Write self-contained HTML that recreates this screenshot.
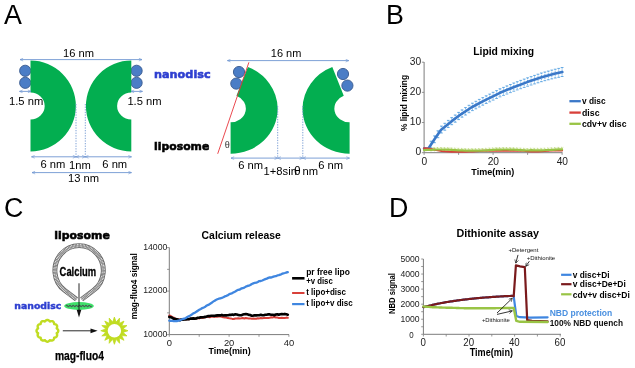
<!DOCTYPE html>
<html lang="en"><head><meta charset="utf-8"><title>Figure</title>
<style>
html,body{margin:0;padding:0;background:#fff;}
svg{display:block;}
text{white-space:pre;}
</style></head><body>
<svg width="635" height="368" viewBox="0 0 635 368">
<defs>
<marker id="ab" viewBox="0 0 10 10" refX="9" refY="5" markerWidth="4.4" markerHeight="4.4" orient="auto-start-reverse"><path d="M1,1.5 L9,5 L1,8.5" fill="none" stroke="#6f96d1" stroke-width="1.5"/></marker>
<marker id="ak" viewBox="0 0 10 10" refX="9" refY="5" markerWidth="5.5" markerHeight="5.5" orient="auto"><path d="M2,1 L9,5 L2,9" fill="none" stroke="#111" stroke-width="1.3"/></marker>
</defs>
<rect width="635" height="368" fill="#fff"/>

<text x="4.1" y="23.9" font-family='"Liberation Sans", sans-serif' font-size="26.8" font-weight="normal" fill="#000" text-anchor="start">A</text>
<text x="386.0" y="23.9" font-family='"Liberation Sans", sans-serif' font-size="26.8" font-weight="normal" fill="#000" text-anchor="start">B</text>
<text x="4.0" y="216.7" font-family='"Liberation Sans", sans-serif' font-size="26.8" font-weight="normal" fill="#000" text-anchor="start">C</text>
<text x="389.0" y="216.7" font-family='"Liberation Sans", sans-serif' font-size="26.8" font-weight="normal" fill="#000" text-anchor="start">D</text>
<circle cx="25.2" cy="70.8" r="5.6" fill="#4b7dc6" stroke="#38598f" stroke-width="0.9"/>
<circle cx="25.2" cy="82.8" r="5.6" fill="#4b7dc6" stroke="#38598f" stroke-width="0.9"/>
<circle cx="136.6" cy="70.8" r="5.6" fill="#4b7dc6" stroke="#38598f" stroke-width="0.9"/>
<circle cx="136.6" cy="82.8" r="5.6" fill="#4b7dc6" stroke="#38598f" stroke-width="0.9"/>
<path d="M30.5,60.6 A45.4,45.4 0 0 1 30.5,151.4 L30.5,119.5 A14.2,13.5 0 0 0 30.5,92.5 Z" fill="#03ae50"/>
<path d="M131.3,60.6 A45.4,45.4 0 0 0 131.3,151.4 L131.3,119.5 A14.2,13.5 0 0 1 131.3,92.5 Z" fill="#03ae50"/>
<line x1="20" y1="59.6" x2="142" y2="59.6" stroke="#6f96d1" stroke-width="0.9" marker-end="url(#ab)" marker-start="url(#ab)"/>
<text x="63" y="56.6" font-family='"Liberation Sans", sans-serif' font-size="11.2" font-weight="normal" fill="#000" text-anchor="start" textLength="31" lengthAdjust="spacingAndGlyphs">16 nm</text>
<line x1="19.5" y1="91.4" x2="31" y2="91.4" stroke="#6f96d1" stroke-width="0.9" marker-end="url(#ab)" marker-start="url(#ab)"/>
<text x="9" y="104.5" font-family='"Liberation Sans", sans-serif' font-size="11.2" font-weight="normal" fill="#000" text-anchor="start">1.5 nm</text>
<line x1="131" y1="91.4" x2="142.5" y2="91.4" stroke="#6f96d1" stroke-width="0.9" marker-end="url(#ab)" marker-start="url(#ab)"/>
<text x="127.4" y="104.5" font-family='"Liberation Sans", sans-serif' font-size="11.2" font-weight="normal" fill="#000" text-anchor="start">1.5 nm</text>
<line x1="76" y1="104" x2="76" y2="158" stroke="#6f96d1" stroke-width="0.9" stroke-dasharray="1.3,1.3"/>
<line x1="85.3" y1="104" x2="85.3" y2="158" stroke="#6f96d1" stroke-width="0.9" stroke-dasharray="1.3,1.3"/>
<line x1="31.5" y1="156.8" x2="76" y2="156.8" stroke="#6f96d1" stroke-width="0.9" marker-end="url(#ab)" marker-start="url(#ab)"/>
<line x1="76" y1="156.8" x2="85.3" y2="156.8" stroke="#6f96d1" stroke-width="0.9" marker-end="url(#ab)" marker-start="url(#ab)"/>
<line x1="85.3" y1="156.8" x2="131.5" y2="156.8" stroke="#6f96d1" stroke-width="0.9" marker-end="url(#ab)" marker-start="url(#ab)"/>
<text x="40.5" y="167.6" font-family='"Liberation Sans", sans-serif' font-size="11.2" font-weight="normal" fill="#000" text-anchor="start">6 nm</text>
<text x="69" y="169" font-family='"Liberation Sans", sans-serif' font-size="11.2" font-weight="normal" fill="#000" text-anchor="start">1nm</text>
<text x="102.3" y="167.6" font-family='"Liberation Sans", sans-serif' font-size="11.2" font-weight="normal" fill="#000" text-anchor="start">6 nm</text>
<line x1="32" y1="172.6" x2="131.5" y2="172.6" stroke="#6f96d1" stroke-width="0.9" marker-end="url(#ab)" marker-start="url(#ab)"/>
<text x="68" y="182.4" font-family='"Liberation Sans", sans-serif' font-size="11.2" font-weight="normal" fill="#000" text-anchor="start">13 nm</text>
<text x="154" y="77.7" font-family='"DejaVu Sans", "Liberation Sans", sans-serif' font-size="11" font-weight="bold" fill="#2e3fd0" text-anchor="start" textLength="56.6" lengthAdjust="spacingAndGlyphs" stroke="#2e3fd0" stroke-width="0.55">nanodisc</text>
<text x="154" y="149.7" font-family='"DejaVu Sans", "Liberation Sans", sans-serif' font-size="11" font-weight="bold" fill="#000" text-anchor="start" textLength="55.3" lengthAdjust="spacingAndGlyphs" stroke="#000" stroke-width="0.55">liposome</text>
<circle cx="239" cy="72" r="5.6" fill="#4b7dc6" stroke="#38598f" stroke-width="0.9"/>
<circle cx="236.3" cy="83.6" r="5.6" fill="#4b7dc6" stroke="#38598f" stroke-width="0.9"/>
<circle cx="343" cy="74" r="5.6" fill="#4b7dc6" stroke="#38598f" stroke-width="0.9"/>
<circle cx="347.4" cy="85.6" r="5.6" fill="#4b7dc6" stroke="#38598f" stroke-width="0.9"/>
<path d="M230.6,153.8 L230.6,122.3 A15.2,13.8 0 0 0 236.46,95.75 L247.9,67 A47.1,45.3 0 0 1 277.7,108.5 A47.1,45.3 0 0 1 230.6,153.8 Z" fill="#03ae50"/>
<path d="M349.6,153.8 L349.6,122.3 A15.2,13.8 0 0 1 343.74,95.75 L332.30000000000007,67 A47.1,45.3 0 0 0 302.50000000000006,108.5 A47.1,45.3 0 0 0 349.6,153.8 Z" fill="#03ae50"/>
<line x1="248.9" y1="62.3" x2="217.7" y2="153.8" stroke="#e8363c" stroke-width="0.9"/>
<line x1="227.4" y1="60.6" x2="348.8" y2="60.6" stroke="#6f96d1" stroke-width="0.9" marker-end="url(#ab)" marker-start="url(#ab)"/>
<text x="270.8" y="56.8" font-family='"Liberation Sans", sans-serif' font-size="11.2" font-weight="normal" fill="#000" text-anchor="start" textLength="30.5" lengthAdjust="spacingAndGlyphs">16 nm</text>
<line x1="277.7" y1="106" x2="277.7" y2="158" stroke="#6f96d1" stroke-width="0.9" stroke-dasharray="1.3,1.3"/>
<line x1="302.8" y1="106" x2="302.8" y2="158" stroke="#6f96d1" stroke-width="0.9" stroke-dasharray="1.3,1.3"/>
<line x1="231" y1="158.1" x2="277.7" y2="158.1" stroke="#6f96d1" stroke-width="0.9" marker-end="url(#ab)" marker-start="url(#ab)"/>
<line x1="277.7" y1="158.1" x2="302.8" y2="158.1" stroke="#6f96d1" stroke-width="0.9" marker-end="url(#ab)" marker-start="url(#ab)"/>
<line x1="302.8" y1="158.1" x2="349.5" y2="158.1" stroke="#6f96d1" stroke-width="0.9" marker-end="url(#ab)" marker-start="url(#ab)"/>
<text x="238.2" y="168.8" font-family='"Liberation Sans", sans-serif' font-size="11.2" font-weight="normal" fill="#000" text-anchor="start">6 nm</text>
<text x="318.2" y="168.8" font-family='"Liberation Sans", sans-serif' font-size="11.2" font-weight="normal" fill="#000" text-anchor="start">6 nm</text>
<text x="263.6" y="175.2" font-family='"Liberation Sans", sans-serif' font-size="11.2" font-weight="normal" fill="#000" text-anchor="start">1+8sin</text>
<text x="294" y="175.2" font-family='"Liberation Sans", sans-serif' font-size="12" font-weight="normal" fill="#000" text-anchor="start">θ</text>
<text x="302.5" y="175.2" font-family='"Liberation Sans", sans-serif' font-size="11.2" font-weight="normal" fill="#000" text-anchor="start">nm</text>
<text x="224.7" y="147.6" font-family='"Liberation Serif", serif' font-size="10.5" font-weight="normal" fill="#333" text-anchor="start">θ</text>
<text x="473.2" y="54.9" font-family='"Liberation Sans", sans-serif' font-size="11.2" font-weight="bold" fill="#000" text-anchor="start" textLength="61" lengthAdjust="spacingAndGlyphs">Lipid mixing</text>
<path d="M424.1,62 L424.1,152.7 L562.5,152.7" fill="none" stroke="#7c7c7c" stroke-width="1"/>
<line x1="424.1" y1="152.7" x2="424.1" y2="154.89999999999998" stroke="#7c7c7c" stroke-width="0.8"/>
<line x1="458.6" y1="152.7" x2="458.6" y2="154.89999999999998" stroke="#7c7c7c" stroke-width="0.8"/>
<line x1="493.1" y1="152.7" x2="493.1" y2="154.89999999999998" stroke="#7c7c7c" stroke-width="0.8"/>
<line x1="527.6" y1="152.7" x2="527.6" y2="154.89999999999998" stroke="#7c7c7c" stroke-width="0.8"/>
<line x1="562.1" y1="152.7" x2="562.1" y2="154.89999999999998" stroke="#7c7c7c" stroke-width="0.8"/>
<line x1="421.90000000000003" y1="152.7" x2="424.1" y2="152.7" stroke="#7c7c7c" stroke-width="0.8"/>
<line x1="421.90000000000003" y1="122.52999999999999" x2="424.1" y2="122.52999999999999" stroke="#7c7c7c" stroke-width="0.8"/>
<line x1="421.90000000000003" y1="92.35999999999999" x2="424.1" y2="92.35999999999999" stroke="#7c7c7c" stroke-width="0.8"/>
<line x1="421.90000000000003" y1="62.19" x2="424.1" y2="62.19" stroke="#7c7c7c" stroke-width="0.8"/>
<text x="421.2" y="155.2" font-family='"Liberation Sans", sans-serif' font-size="10.2" font-weight="normal" fill="#222" text-anchor="end">0</text>
<text x="421.2" y="125.02999999999999" font-family='"Liberation Sans", sans-serif' font-size="10.2" font-weight="normal" fill="#222" text-anchor="end">10</text>
<text x="421.2" y="94.85999999999999" font-family='"Liberation Sans", sans-serif' font-size="10.2" font-weight="normal" fill="#222" text-anchor="end">20</text>
<text x="421.2" y="64.69" font-family='"Liberation Sans", sans-serif' font-size="10.2" font-weight="normal" fill="#222" text-anchor="end">30</text>
<text x="424.3" y="164.8" font-family='"Liberation Sans", sans-serif' font-size="10.2" font-weight="normal" fill="#222" text-anchor="middle">0</text>
<text x="493.3" y="164.8" font-family='"Liberation Sans", sans-serif' font-size="10.2" font-weight="normal" fill="#222" text-anchor="middle">20</text>
<text x="562.3000000000001" y="164.8" font-family='"Liberation Sans", sans-serif' font-size="10.2" font-weight="normal" fill="#222" text-anchor="middle">40</text>
<text x="471.3" y="174.8" font-family='"Liberation Sans", sans-serif' font-size="9.2" font-weight="bold" fill="#000" text-anchor="start" textLength="43" lengthAdjust="spacingAndGlyphs">Time(min)</text>
<text transform="translate(406.7,131.0) rotate(-90)" font-family='"Liberation Sans", sans-serif' font-size="8.7" font-weight="bold" fill="#000" textLength="56" lengthAdjust="spacingAndGlyphs">% lipid mixing</text>
<path d="M431.0,141.2 L431.0,147.9" stroke="#4a9ade" stroke-width="0.8" stroke-dasharray="1.2,0.8" fill="none"/>
<path d="M429.6,141.2 L432.4,141.2 M429.6,147.9 L432.4,147.9" stroke="#4a9ade" stroke-width="0.8" fill="none"/>
<path d="M434.5,135.9 L434.5,142.7" stroke="#4a9ade" stroke-width="0.8" stroke-dasharray="1.2,0.8" fill="none"/>
<path d="M433.1,135.9 L435.9,135.9 M433.1,142.7 L435.9,142.7" stroke="#4a9ade" stroke-width="0.8" fill="none"/>
<path d="M437.9,130.8 L437.9,137.7" stroke="#4a9ade" stroke-width="0.8" stroke-dasharray="1.2,0.8" fill="none"/>
<path d="M436.5,130.8 L439.3,130.8 M436.5,137.7 L439.3,137.7" stroke="#4a9ade" stroke-width="0.8" fill="none"/>
<path d="M441.4,126.1 L441.4,133.0" stroke="#4a9ade" stroke-width="0.8" stroke-dasharray="1.2,0.8" fill="none"/>
<path d="M440.0,126.1 L442.8,126.1 M440.0,133.0 L442.8,133.0" stroke="#4a9ade" stroke-width="0.8" fill="none"/>
<path d="M444.8,123.3 L444.8,130.2" stroke="#4a9ade" stroke-width="0.8" stroke-dasharray="1.2,0.8" fill="none"/>
<path d="M443.4,123.3 L446.2,123.3 M443.4,130.2 L446.2,130.2" stroke="#4a9ade" stroke-width="0.8" fill="none"/>
<path d="M448.2,120.4 L448.2,127.5" stroke="#4a9ade" stroke-width="0.8" stroke-dasharray="1.2,0.8" fill="none"/>
<path d="M446.9,120.4 L449.6,120.4 M446.9,127.5 L449.6,127.5" stroke="#4a9ade" stroke-width="0.8" fill="none"/>
<path d="M451.7,117.6 L451.7,124.7" stroke="#4a9ade" stroke-width="0.8" stroke-dasharray="1.2,0.8" fill="none"/>
<path d="M450.3,117.6 L453.1,117.6 M450.3,124.7 L453.1,124.7" stroke="#4a9ade" stroke-width="0.8" fill="none"/>
<path d="M455.2,115.0 L455.2,122.2" stroke="#4a9ade" stroke-width="0.8" stroke-dasharray="1.2,0.8" fill="none"/>
<path d="M453.8,115.0 L456.6,115.0 M453.8,122.2 L456.6,122.2" stroke="#4a9ade" stroke-width="0.8" fill="none"/>
<path d="M458.6,112.4 L458.6,119.6" stroke="#4a9ade" stroke-width="0.8" stroke-dasharray="1.2,0.8" fill="none"/>
<path d="M457.2,112.4 L460.0,112.4 M457.2,119.6 L460.0,119.6" stroke="#4a9ade" stroke-width="0.8" fill="none"/>
<path d="M462.1,109.9 L462.1,117.2" stroke="#4a9ade" stroke-width="0.8" stroke-dasharray="1.2,0.8" fill="none"/>
<path d="M460.7,109.9 L463.4,109.9 M460.7,117.2 L463.4,117.2" stroke="#4a9ade" stroke-width="0.8" fill="none"/>
<path d="M465.5,107.6 L465.5,115.0" stroke="#4a9ade" stroke-width="0.8" stroke-dasharray="1.2,0.8" fill="none"/>
<path d="M464.1,107.6 L466.9,107.6 M464.1,115.0 L466.9,115.0" stroke="#4a9ade" stroke-width="0.8" fill="none"/>
<path d="M469.0,105.3 L469.0,112.7" stroke="#4a9ade" stroke-width="0.8" stroke-dasharray="1.2,0.8" fill="none"/>
<path d="M467.6,105.3 L470.4,105.3 M467.6,112.7 L470.4,112.7" stroke="#4a9ade" stroke-width="0.8" fill="none"/>
<path d="M472.4,103.2 L472.4,110.6" stroke="#4a9ade" stroke-width="0.8" stroke-dasharray="1.2,0.8" fill="none"/>
<path d="M471.0,103.2 L473.8,103.2 M471.0,110.6 L473.8,110.6" stroke="#4a9ade" stroke-width="0.8" fill="none"/>
<path d="M475.9,101.3 L475.9,108.8" stroke="#4a9ade" stroke-width="0.8" stroke-dasharray="1.2,0.8" fill="none"/>
<path d="M474.5,101.3 L477.2,101.3 M474.5,108.8 L477.2,108.8" stroke="#4a9ade" stroke-width="0.8" fill="none"/>
<path d="M479.3,99.4 L479.3,107.0" stroke="#4a9ade" stroke-width="0.8" stroke-dasharray="1.2,0.8" fill="none"/>
<path d="M477.9,99.4 L480.7,99.4 M477.9,107.0 L480.7,107.0" stroke="#4a9ade" stroke-width="0.8" fill="none"/>
<path d="M482.8,97.6 L482.8,105.2" stroke="#4a9ade" stroke-width="0.8" stroke-dasharray="1.2,0.8" fill="none"/>
<path d="M481.4,97.6 L484.1,97.6 M481.4,105.2 L484.1,105.2" stroke="#4a9ade" stroke-width="0.8" fill="none"/>
<path d="M486.2,95.8 L486.2,103.5" stroke="#4a9ade" stroke-width="0.8" stroke-dasharray="1.2,0.8" fill="none"/>
<path d="M484.8,95.8 L487.6,95.8 M484.8,103.5 L487.6,103.5" stroke="#4a9ade" stroke-width="0.8" fill="none"/>
<path d="M489.7,94.1 L489.7,101.8" stroke="#4a9ade" stroke-width="0.8" stroke-dasharray="1.2,0.8" fill="none"/>
<path d="M488.3,94.1 L491.1,94.1 M488.3,101.8 L491.1,101.8" stroke="#4a9ade" stroke-width="0.8" fill="none"/>
<path d="M493.1,92.3 L493.1,100.1" stroke="#4a9ade" stroke-width="0.8" stroke-dasharray="1.2,0.8" fill="none"/>
<path d="M491.7,92.3 L494.5,92.3 M491.7,100.1 L494.5,100.1" stroke="#4a9ade" stroke-width="0.8" fill="none"/>
<path d="M496.6,90.6 L496.6,98.5" stroke="#4a9ade" stroke-width="0.8" stroke-dasharray="1.2,0.8" fill="none"/>
<path d="M495.2,90.6 L497.9,90.6 M495.2,98.5 L497.9,98.5" stroke="#4a9ade" stroke-width="0.8" fill="none"/>
<path d="M500.0,88.8 L500.0,96.8" stroke="#4a9ade" stroke-width="0.8" stroke-dasharray="1.2,0.8" fill="none"/>
<path d="M498.6,88.8 L501.4,88.8 M498.6,96.8 L501.4,96.8" stroke="#4a9ade" stroke-width="0.8" fill="none"/>
<path d="M503.5,87.4 L503.5,95.4" stroke="#4a9ade" stroke-width="0.8" stroke-dasharray="1.2,0.8" fill="none"/>
<path d="M502.1,87.4 L504.9,87.4 M502.1,95.4 L504.9,95.4" stroke="#4a9ade" stroke-width="0.8" fill="none"/>
<path d="M506.9,85.9 L506.9,94.0" stroke="#4a9ade" stroke-width="0.8" stroke-dasharray="1.2,0.8" fill="none"/>
<path d="M505.5,85.9 L508.3,85.9 M505.5,94.0 L508.3,94.0" stroke="#4a9ade" stroke-width="0.8" fill="none"/>
<path d="M510.4,84.5 L510.4,92.6" stroke="#4a9ade" stroke-width="0.8" stroke-dasharray="1.2,0.8" fill="none"/>
<path d="M509.0,84.5 L511.8,84.5 M509.0,92.6 L511.8,92.6" stroke="#4a9ade" stroke-width="0.8" fill="none"/>
<path d="M513.8,83.0 L513.8,91.2" stroke="#4a9ade" stroke-width="0.8" stroke-dasharray="1.2,0.8" fill="none"/>
<path d="M512.4,83.0 L515.2,83.0 M512.4,91.2 L515.2,91.2" stroke="#4a9ade" stroke-width="0.8" fill="none"/>
<path d="M517.2,81.7 L517.2,89.9" stroke="#4a9ade" stroke-width="0.8" stroke-dasharray="1.2,0.8" fill="none"/>
<path d="M515.9,81.7 L518.6,81.7 M515.9,89.9 L518.6,89.9" stroke="#4a9ade" stroke-width="0.8" fill="none"/>
<path d="M520.7,80.4 L520.7,88.7" stroke="#4a9ade" stroke-width="0.8" stroke-dasharray="1.2,0.8" fill="none"/>
<path d="M519.3,80.4 L522.1,80.4 M519.3,88.7 L522.1,88.7" stroke="#4a9ade" stroke-width="0.8" fill="none"/>
<path d="M524.2,79.1 L524.2,87.4" stroke="#4a9ade" stroke-width="0.8" stroke-dasharray="1.2,0.8" fill="none"/>
<path d="M522.8,79.1 L525.6,79.1 M522.8,87.4 L525.6,87.4" stroke="#4a9ade" stroke-width="0.8" fill="none"/>
<path d="M527.6,77.8 L527.6,86.2" stroke="#4a9ade" stroke-width="0.8" stroke-dasharray="1.2,0.8" fill="none"/>
<path d="M526.2,77.8 L529.0,77.8 M526.2,86.2 L529.0,86.2" stroke="#4a9ade" stroke-width="0.8" fill="none"/>
<path d="M531.1,76.6 L531.1,85.0" stroke="#4a9ade" stroke-width="0.8" stroke-dasharray="1.2,0.8" fill="none"/>
<path d="M529.7,76.6 L532.5,76.6 M529.7,85.0 L532.5,85.0" stroke="#4a9ade" stroke-width="0.8" fill="none"/>
<path d="M534.5,75.4 L534.5,83.9" stroke="#4a9ade" stroke-width="0.8" stroke-dasharray="1.2,0.8" fill="none"/>
<path d="M533.1,75.4 L535.9,75.4 M533.1,83.9 L535.9,83.9" stroke="#4a9ade" stroke-width="0.8" fill="none"/>
<path d="M538.0,74.2 L538.0,82.8" stroke="#4a9ade" stroke-width="0.8" stroke-dasharray="1.2,0.8" fill="none"/>
<path d="M536.6,74.2 L539.4,74.2 M536.6,82.8 L539.4,82.8" stroke="#4a9ade" stroke-width="0.8" fill="none"/>
<path d="M541.4,73.0 L541.4,81.7" stroke="#4a9ade" stroke-width="0.8" stroke-dasharray="1.2,0.8" fill="none"/>
<path d="M540.0,73.0 L542.8,73.0 M540.0,81.7 L542.8,81.7" stroke="#4a9ade" stroke-width="0.8" fill="none"/>
<path d="M544.9,72.0 L544.9,80.7" stroke="#4a9ade" stroke-width="0.8" stroke-dasharray="1.2,0.8" fill="none"/>
<path d="M543.5,72.0 L546.2,72.0 M543.5,80.7 L546.2,80.7" stroke="#4a9ade" stroke-width="0.8" fill="none"/>
<path d="M548.3,71.1 L548.3,79.8" stroke="#4a9ade" stroke-width="0.8" stroke-dasharray="1.2,0.8" fill="none"/>
<path d="M546.9,71.1 L549.7,71.1 M546.9,79.8 L549.7,79.8" stroke="#4a9ade" stroke-width="0.8" fill="none"/>
<path d="M551.8,70.1 L551.8,78.9" stroke="#4a9ade" stroke-width="0.8" stroke-dasharray="1.2,0.8" fill="none"/>
<path d="M550.4,70.1 L553.1,70.1 M550.4,78.9 L553.1,78.9" stroke="#4a9ade" stroke-width="0.8" fill="none"/>
<path d="M555.2,69.2 L555.2,78.0" stroke="#4a9ade" stroke-width="0.8" stroke-dasharray="1.2,0.8" fill="none"/>
<path d="M553.8,69.2 L556.6,69.2 M553.8,78.0 L556.6,78.0" stroke="#4a9ade" stroke-width="0.8" fill="none"/>
<path d="M558.7,68.4 L558.7,77.3" stroke="#4a9ade" stroke-width="0.8" stroke-dasharray="1.2,0.8" fill="none"/>
<path d="M557.3,68.4 L560.1,68.4 M557.3,77.3 L560.1,77.3" stroke="#4a9ade" stroke-width="0.8" fill="none"/>
<path d="M562.1,67.5 L562.1,76.5" stroke="#4a9ade" stroke-width="0.8" stroke-dasharray="1.2,0.8" fill="none"/>
<path d="M560.7,67.5 L563.5,67.5 M560.7,76.5 L563.5,76.5" stroke="#4a9ade" stroke-width="0.8" fill="none"/>
<path d="M431.0,147.8 L431.0,151.8 M429.7,147.8 L432.3,147.8" stroke="#a8cc55" stroke-width="0.6" stroke-dasharray="1.4,0.9" fill="none"/>
<path d="M434.5,147.6 L434.5,151.6 M433.2,147.6 L435.8,147.6" stroke="#a8cc55" stroke-width="0.6" stroke-dasharray="1.4,0.9" fill="none"/>
<path d="M437.9,147.5 L437.9,151.5 M436.6,147.5 L439.2,147.5" stroke="#a8cc55" stroke-width="0.6" stroke-dasharray="1.4,0.9" fill="none"/>
<path d="M441.4,147.5 L441.4,151.5 M440.1,147.5 L442.7,147.5" stroke="#a8cc55" stroke-width="0.6" stroke-dasharray="1.4,0.9" fill="none"/>
<path d="M444.8,147.6 L444.8,151.6 M443.5,147.6 L446.1,147.6" stroke="#a8cc55" stroke-width="0.6" stroke-dasharray="1.4,0.9" fill="none"/>
<path d="M448.2,147.7 L448.2,151.7 M446.9,147.7 L449.6,147.7" stroke="#a8cc55" stroke-width="0.6" stroke-dasharray="1.4,0.9" fill="none"/>
<path d="M451.7,147.9 L451.7,151.9 M450.4,147.9 L453.0,147.9" stroke="#a8cc55" stroke-width="0.6" stroke-dasharray="1.4,0.9" fill="none"/>
<path d="M455.2,148.1 L455.2,152.1 M453.9,148.1 L456.5,148.1" stroke="#a8cc55" stroke-width="0.6" stroke-dasharray="1.4,0.9" fill="none"/>
<path d="M458.6,148.3 L458.6,152.3 M457.3,148.3 L459.9,148.3" stroke="#a8cc55" stroke-width="0.6" stroke-dasharray="1.4,0.9" fill="none"/>
<path d="M462.1,148.4 L462.1,152.4 M460.8,148.4 L463.4,148.4" stroke="#a8cc55" stroke-width="0.6" stroke-dasharray="1.4,0.9" fill="none"/>
<path d="M465.5,148.6 L465.5,152.6 M464.2,148.6 L466.8,148.6" stroke="#a8cc55" stroke-width="0.6" stroke-dasharray="1.4,0.9" fill="none"/>
<path d="M469.0,148.7 L469.0,152.7 M467.7,148.7 L470.3,148.7" stroke="#a8cc55" stroke-width="0.6" stroke-dasharray="1.4,0.9" fill="none"/>
<path d="M472.4,148.7 L472.4,152.7 M471.1,148.7 L473.7,148.7" stroke="#a8cc55" stroke-width="0.6" stroke-dasharray="1.4,0.9" fill="none"/>
<path d="M475.9,148.7 L475.9,152.7 M474.6,148.7 L477.2,148.7" stroke="#a8cc55" stroke-width="0.6" stroke-dasharray="1.4,0.9" fill="none"/>
<path d="M479.3,148.6 L479.3,152.6 M478.0,148.6 L480.6,148.6" stroke="#a8cc55" stroke-width="0.6" stroke-dasharray="1.4,0.9" fill="none"/>
<path d="M482.8,148.5 L482.8,152.5 M481.4,148.5 L484.1,148.5" stroke="#a8cc55" stroke-width="0.6" stroke-dasharray="1.4,0.9" fill="none"/>
<path d="M486.2,148.3 L486.2,152.3 M484.9,148.3 L487.5,148.3" stroke="#a8cc55" stroke-width="0.6" stroke-dasharray="1.4,0.9" fill="none"/>
<path d="M489.7,148.1 L489.7,152.1 M488.4,148.1 L491.0,148.1" stroke="#a8cc55" stroke-width="0.6" stroke-dasharray="1.4,0.9" fill="none"/>
<path d="M493.1,147.9 L493.1,151.9 M491.8,147.9 L494.4,147.9" stroke="#a8cc55" stroke-width="0.6" stroke-dasharray="1.4,0.9" fill="none"/>
<path d="M496.6,147.7 L496.6,151.7 M495.2,147.7 L497.9,147.7" stroke="#a8cc55" stroke-width="0.6" stroke-dasharray="1.4,0.9" fill="none"/>
<path d="M500.0,147.6 L500.0,151.6 M498.7,147.6 L501.3,147.6" stroke="#a8cc55" stroke-width="0.6" stroke-dasharray="1.4,0.9" fill="none"/>
<path d="M503.5,147.5 L503.5,151.5 M502.2,147.5 L504.8,147.5" stroke="#a8cc55" stroke-width="0.6" stroke-dasharray="1.4,0.9" fill="none"/>
<path d="M506.9,147.5 L506.9,151.5 M505.6,147.5 L508.2,147.5" stroke="#a8cc55" stroke-width="0.6" stroke-dasharray="1.4,0.9" fill="none"/>
<path d="M510.4,147.6 L510.4,151.6 M509.1,147.6 L511.7,147.6" stroke="#a8cc55" stroke-width="0.6" stroke-dasharray="1.4,0.9" fill="none"/>
<path d="M513.8,147.7 L513.8,151.7 M512.5,147.7 L515.1,147.7" stroke="#a8cc55" stroke-width="0.6" stroke-dasharray="1.4,0.9" fill="none"/>
<path d="M517.2,147.9 L517.2,151.9 M516.0,147.9 L518.5,147.9" stroke="#a8cc55" stroke-width="0.6" stroke-dasharray="1.4,0.9" fill="none"/>
<path d="M520.7,148.1 L520.7,152.1 M519.4,148.1 L522.0,148.1" stroke="#a8cc55" stroke-width="0.6" stroke-dasharray="1.4,0.9" fill="none"/>
<path d="M524.2,148.3 L524.2,152.3 M522.9,148.3 L525.5,148.3" stroke="#a8cc55" stroke-width="0.6" stroke-dasharray="1.4,0.9" fill="none"/>
<path d="M527.6,148.5 L527.6,152.5 M526.3,148.5 L528.9,148.5" stroke="#a8cc55" stroke-width="0.6" stroke-dasharray="1.4,0.9" fill="none"/>
<path d="M531.1,148.2 L531.1,152.2 M529.8,148.2 L532.4,148.2" stroke="#a8cc55" stroke-width="0.6" stroke-dasharray="1.4,0.9" fill="none"/>
<path d="M534.5,148.3 L534.5,152.3 M533.2,148.3 L535.8,148.3" stroke="#a8cc55" stroke-width="0.6" stroke-dasharray="1.4,0.9" fill="none"/>
<path d="M538.0,148.3 L538.0,152.3 M536.7,148.3 L539.2,148.3" stroke="#a8cc55" stroke-width="0.6" stroke-dasharray="1.4,0.9" fill="none"/>
<path d="M541.4,148.3 L541.4,152.3 M540.1,148.3 L542.7,148.3" stroke="#a8cc55" stroke-width="0.6" stroke-dasharray="1.4,0.9" fill="none"/>
<path d="M544.9,148.2 L544.9,152.2 M543.6,148.2 L546.1,148.2" stroke="#a8cc55" stroke-width="0.6" stroke-dasharray="1.4,0.9" fill="none"/>
<path d="M548.3,148.0 L548.3,152.0 M547.0,148.0 L549.6,148.0" stroke="#a8cc55" stroke-width="0.6" stroke-dasharray="1.4,0.9" fill="none"/>
<path d="M551.8,147.8 L551.8,151.8 M550.5,147.8 L553.0,147.8" stroke="#a8cc55" stroke-width="0.6" stroke-dasharray="1.4,0.9" fill="none"/>
<path d="M555.2,147.6 L555.2,151.6 M553.9,147.6 L556.5,147.6" stroke="#a8cc55" stroke-width="0.6" stroke-dasharray="1.4,0.9" fill="none"/>
<path d="M558.7,147.4 L558.7,151.4 M557.4,147.4 L560.0,147.4" stroke="#a8cc55" stroke-width="0.6" stroke-dasharray="1.4,0.9" fill="none"/>
<path d="M562.1,147.3 L562.1,151.3 M560.8,147.3 L563.4,147.3" stroke="#a8cc55" stroke-width="0.6" stroke-dasharray="1.4,0.9" fill="none"/>
<polyline points="424.1,148.6 428.6,148.2 434.5,139.2 440.9,129.9 451.4,121.4 460.9,114.3 471.3,107.5 482.7,101.4 496.0,94.8 500.0,92.8 513.6,87.2 527.2,82.1 540.8,77.5 554.3,73.8 562.3,72.0" fill="none" stroke="#3a78c8" stroke-width="2.6" stroke-linejoin="round" stroke-linecap="round"/>
<polyline points="424.1,148.2 427.6,148.5 431.0,149.1 434.5,149.7 437.9,150.3 441.4,150.9 444.8,151.3 448.2,151.6 451.7,151.8 455.2,151.8 458.6,151.8 462.1,151.8 465.5,151.8 469.0,151.6 472.4,151.5 475.9,151.2 479.3,150.9 482.8,150.7 486.2,150.7 489.7,150.7 493.1,150.7 496.6,150.7 500.0,150.7 503.5,150.7 506.9,150.7 510.4,150.7 513.8,150.7 517.2,150.7 520.7,150.7 524.2,150.7 527.6,151.2 531.1,151.5 534.5,151.6 538.0,151.5 541.4,151.2 544.9,150.9 548.3,150.7 551.8,150.6 555.2,150.6 558.7,150.6 562.1,150.4" fill="none" stroke="#d8403a" stroke-width="2.0" stroke-linejoin="round" stroke-linecap="round"/>
<polyline points="424.1,150.1 427.6,149.9 431.0,149.8 434.5,149.6 437.9,149.5 441.4,149.5 444.8,149.6 448.2,149.7 451.7,149.9 455.2,150.1 458.6,150.3 462.1,150.4 465.5,150.6 469.0,150.7 472.4,150.7 475.9,150.7 479.3,150.6 482.8,150.5 486.2,150.3 489.7,150.1 493.1,149.9 496.6,149.7 500.0,149.6 503.5,149.5 506.9,149.5 510.4,149.6 513.8,149.7 517.2,149.9 520.7,150.1 524.2,150.3 527.6,150.5 531.1,150.2 534.5,150.3 538.0,150.3 541.4,150.3 544.9,150.2 548.3,150.0 551.8,149.8 555.2,149.6 558.7,149.4 562.1,149.3" fill="none" stroke="#99c445" stroke-width="2.2" stroke-linejoin="round" stroke-linecap="round"/>
<line x1="569.4" y1="101.2" x2="580.8" y2="101.2" stroke="#3a78c8" stroke-width="2.3"/>
<text x="582" y="104.4" font-family='"Liberation Sans", sans-serif' font-size="9.4" font-weight="bold" fill="#000" text-anchor="start" textLength="23.6" lengthAdjust="spacingAndGlyphs">v disc</text>
<line x1="569.4" y1="112.6" x2="580.8" y2="112.6" stroke="#d8403a" stroke-width="2.3"/>
<text x="582" y="115.8" font-family='"Liberation Sans", sans-serif' font-size="9.4" font-weight="bold" fill="#000" text-anchor="start" textLength="17.5" lengthAdjust="spacingAndGlyphs">disc</text>
<line x1="569.4" y1="123.8" x2="580.8" y2="123.8" stroke="#99c445" stroke-width="2.3"/>
<text x="582" y="127.0" font-family='"Liberation Sans", sans-serif' font-size="9.4" font-weight="bold" fill="#000" text-anchor="start" textLength="44.5" lengthAdjust="spacingAndGlyphs">cdv+v disc</text>
<text x="54.3" y="239" font-family='"DejaVu Sans", "Liberation Sans", sans-serif' font-size="11" font-weight="bold" fill="#000" text-anchor="start" textLength="55.5" lengthAdjust="spacingAndGlyphs" stroke="#000" stroke-width="0.55">liposome</text>
<path d="M76.6,299.4 L64.7,290.4 A24.2,24.8 0 1 1 93.5,290.4 L81.6,299.4" fill="none" stroke="#666" stroke-width="4.9" stroke-linejoin="round"/>
<path d="M76.6,299.4 L64.7,290.4 A24.2,24.8 0 1 1 93.5,290.4 L81.6,299.4" fill="none" stroke="#f6f6f6" stroke-width="3.3" stroke-dasharray="0.75,0.65"/>
<path d="M76.6,299.4 L64.7,290.4 A24.2,24.8 0 1 1 93.5,290.4 L81.6,299.4" fill="none" stroke="#888" stroke-width="0.7"/>
<ellipse cx="79" cy="306" rx="14.8" ry="3.9" fill="#3fe06a"/>
<path d="M66,306 q0.8,-1.6 1.6,0 t1.6,0 t1.6,0 t1.6,0 t1.6,0 t1.6,0 t1.6,0 t1.6,0 t1.6,0 t1.6,0 t1.6,0 t1.6,0 t1.6,0 t1.6,0 t1.6,0 t1.6,0" fill="none" stroke="#4a5a55" stroke-width="1.1"/>
<text x="59.6" y="275.9" font-family='"Liberation Sans", sans-serif' font-size="12.6" font-weight="bold" textLength="36.6" lengthAdjust="spacingAndGlyphs" stroke="#fff" stroke-width="2.4" stroke-linejoin="round" fill="#fff">Calcium</text>
<text x="59.6" y="275.9" font-family='"Liberation Sans", sans-serif' font-size="12.6" font-weight="bold" fill="#000" text-anchor="start" textLength="36.6" lengthAdjust="spacingAndGlyphs" stroke="#000" stroke-width="0.3">Calcium</text>
<line x1="79" y1="283.3" x2="79" y2="311" stroke="#111" stroke-width="0.9"/>
<path d="M76.7,309.8 L81.3,309.8 L79,317.6 Z" fill="#111"/>
<text x="14.3" y="308.7" font-family='"DejaVu Sans", "Liberation Sans", sans-serif' font-size="9.4" font-weight="bold" fill="#2e3fd0" text-anchor="start" textLength="47" lengthAdjust="spacingAndGlyphs" stroke="#2e3fd0" stroke-width="0.45">nanodisc</text>
<polygon points="58.3,330.8 58.2,331.4 58.0,331.9 57.6,332.4 57.2,332.9 56.7,333.3 56.9,333.9 57.1,334.5 57.1,335.1 57.1,335.7 56.8,336.2 56.5,336.7 56.0,337.1 55.5,337.3 54.8,337.5 54.2,337.6 54.1,338.2 53.9,338.9 53.7,339.4 53.3,339.9 52.9,340.2 52.3,340.5 51.7,340.5 51.1,340.5 50.5,340.3 49.9,340.1 49.5,340.6 49.0,341.0 48.5,341.4 48.0,341.6 47.4,341.7 46.8,341.6 46.3,341.4 45.8,341.0 45.3,340.6 44.9,340.1 44.3,340.3 43.7,340.5 43.1,340.5 42.5,340.5 42.0,340.2 41.5,339.9 41.1,339.4 40.9,338.9 40.7,338.2 40.6,337.6 40.0,337.5 39.3,337.3 38.8,337.1 38.3,336.7 38.0,336.2 37.7,335.7 37.7,335.1 37.7,334.5 37.9,333.9 38.1,333.3 37.6,332.9 37.2,332.4 36.8,331.9 36.6,331.4 36.5,330.8 36.6,330.2 36.8,329.7 37.2,329.2 37.6,328.7 38.1,328.3 37.9,327.7 37.7,327.1 37.7,326.5 37.7,325.9 38.0,325.4 38.3,324.9 38.8,324.5 39.3,324.3 40.0,324.1 40.6,324.0 40.7,323.4 40.9,322.7 41.1,322.2 41.5,321.7 41.9,321.4 42.5,321.1 43.1,321.1 43.7,321.1 44.3,321.3 44.9,321.5 45.3,321.0 45.8,320.6 46.3,320.2 46.8,320.0 47.4,319.9 48.0,320.0 48.5,320.2 49.0,320.6 49.5,321.0 49.9,321.5 50.5,321.3 51.1,321.1 51.7,321.1 52.3,321.1 52.9,321.4 53.3,321.7 53.7,322.2 53.9,322.7 54.1,323.4 54.2,324.0 54.8,324.1 55.5,324.3 56.0,324.5 56.5,324.9 56.8,325.4 57.1,325.9 57.1,326.5 57.1,327.1 56.9,327.7 56.7,328.3 57.2,328.7 57.6,329.2 58.0,329.7 58.2,330.2 58.3,330.8" fill="#fff" stroke="#c0dc22" stroke-width="2.4" stroke-linejoin="round"/>
<line x1="62.8" y1="330.8" x2="92" y2="330.8" stroke="#111" stroke-width="0.9"/>
<path d="M90.5,328.4 L90.5,333.2 L97.6,330.8 Z" fill="#111"/>
<polygon points="114.4,317.1 116.1,322.1 119.6,318.1 119.3,323.4 124.0,321.1 121.7,325.8 127.0,325.5 123.0,329.0 128.0,330.7 123.0,332.4 127.0,335.9 121.7,335.6 124.0,340.3 119.3,338.0 119.6,343.3 116.1,339.3 114.4,344.3 112.7,339.3 109.2,343.3 109.5,338.0 104.8,340.3 107.1,335.6 101.8,335.9 105.8,332.4 100.8,330.7 105.8,329.0 101.8,325.5 107.1,325.8 104.8,321.1 109.5,323.4 109.2,318.1 112.7,322.1" fill="#c0dc22" stroke="#c0dc22" stroke-width="0.8" stroke-linejoin="round"/>
<circle cx="114.4" cy="330.7" r="6.7" fill="#fff"/>
<text x="54.9" y="359.8" font-family='"Liberation Sans", sans-serif' font-size="12.6" font-weight="bold" fill="#000" text-anchor="start" textLength="49" lengthAdjust="spacingAndGlyphs" stroke="#000" stroke-width="0.25">mag-fluo4</text>
<text x="201.6" y="239.3" font-family='"Liberation Sans", sans-serif' font-size="11.2" font-weight="bold" fill="#000" text-anchor="start" textLength="79.2" lengthAdjust="spacingAndGlyphs">Calcium release</text>
<path d="M169.3,247.5 L169.3,334.6 L289,334.6" fill="none" stroke="#7c7c7c" stroke-width="1"/>
<line x1="169.3" y1="334.6" x2="169.3" y2="336.8" stroke="#7c7c7c" stroke-width="0.8"/>
<line x1="199.20000000000002" y1="334.6" x2="199.20000000000002" y2="336.8" stroke="#7c7c7c" stroke-width="0.8"/>
<line x1="229.10000000000002" y1="334.6" x2="229.10000000000002" y2="336.8" stroke="#7c7c7c" stroke-width="0.8"/>
<line x1="259.0" y1="334.6" x2="259.0" y2="336.8" stroke="#7c7c7c" stroke-width="0.8"/>
<line x1="288.90000000000003" y1="334.6" x2="288.90000000000003" y2="336.8" stroke="#7c7c7c" stroke-width="0.8"/>
<line x1="167.10000000000002" y1="334.6" x2="169.3" y2="334.6" stroke="#7c7c7c" stroke-width="0.8"/>
<line x1="167.10000000000002" y1="312.85" x2="169.3" y2="312.85" stroke="#7c7c7c" stroke-width="0.8"/>
<line x1="167.10000000000002" y1="291.1" x2="169.3" y2="291.1" stroke="#7c7c7c" stroke-width="0.8"/>
<line x1="167.10000000000002" y1="269.35" x2="169.3" y2="269.35" stroke="#7c7c7c" stroke-width="0.8"/>
<line x1="167.10000000000002" y1="247.60000000000002" x2="169.3" y2="247.60000000000002" stroke="#7c7c7c" stroke-width="0.8"/>
<text x="143.2" y="336.8" font-family='"Liberation Sans", sans-serif' font-size="8.7" font-weight="normal" fill="#222" text-anchor="start" textLength="24.2" lengthAdjust="spacingAndGlyphs">10000</text>
<text x="143.2" y="293.3" font-family='"Liberation Sans", sans-serif' font-size="8.7" font-weight="normal" fill="#222" text-anchor="start" textLength="24.2" lengthAdjust="spacingAndGlyphs">12000</text>
<text x="143.2" y="249.8" font-family='"Liberation Sans", sans-serif' font-size="8.7" font-weight="normal" fill="#222" text-anchor="start" textLength="24.2" lengthAdjust="spacingAndGlyphs">14000</text>
<text x="169.3" y="346.2" font-family='"Liberation Sans", sans-serif' font-size="9.4" font-weight="normal" fill="#222" text-anchor="middle">0</text>
<text x="229.10000000000002" y="346.2" font-family='"Liberation Sans", sans-serif' font-size="9.4" font-weight="normal" fill="#222" text-anchor="middle">20</text>
<text x="288.90000000000003" y="346.2" font-family='"Liberation Sans", sans-serif' font-size="9.4" font-weight="normal" fill="#222" text-anchor="middle">40</text>
<text x="208.4" y="353.9" font-family='"Liberation Sans", sans-serif' font-size="9.4" font-weight="bold" fill="#000" text-anchor="start" textLength="42.3" lengthAdjust="spacingAndGlyphs">Time(min)</text>
<text transform="translate(136.8,319.2) rotate(-90)" font-family='"Liberation Sans", sans-serif' font-size="8.8" font-weight="bold" fill="#000" textLength="66" lengthAdjust="spacingAndGlyphs">mag-fluo4 signal</text>
<polyline points="169.3,315.5 170.8,316.0 172.3,317.1 173.8,317.6 175.3,318.7 176.8,319.0 178.3,319.3 179.8,319.8 181.3,319.4 182.8,319.6 184.3,319.3 185.8,319.1 187.3,319.2 188.8,319.3 190.3,318.7 191.8,318.6 193.3,318.8 194.8,318.8 196.3,318.4 197.8,318.1 199.3,318.4 200.8,317.6 202.3,318.0 203.8,317.5 205.3,317.2 206.8,317.1 208.3,317.0 209.8,317.2 211.3,316.6 212.8,316.8 214.3,316.7 215.8,316.6 217.3,316.8 218.8,316.5 220.3,316.5 221.8,316.7 223.3,317.3 224.8,317.4 226.3,317.6 227.8,318.1 229.3,318.3 230.8,318.4 232.3,318.9 233.8,319.0 235.3,318.5 236.8,318.6 238.3,318.3 239.8,318.4 241.3,318.3 242.8,318.0 244.3,318.5 245.8,318.0 247.3,318.2 248.8,318.6 250.3,318.4 251.8,318.8 253.3,318.6 254.8,318.8 256.3,318.7 257.8,318.3 259.3,318.4 260.8,318.0 262.3,318.2 263.8,318.1 265.3,318.1 266.8,317.9 268.3,317.9 269.8,317.8 271.3,317.3 272.8,317.4 274.3,317.0 275.8,317.5 277.3,317.6 278.8,317.9 280.3,318.0 281.8,317.8 283.3,318.0 284.8,318.1 286.3,317.6 287.8,317.8" fill="none" stroke="#d8403a" stroke-width="2.0" stroke-linejoin="round" stroke-linecap="round"/>
<polyline points="169.3,316.9 170.8,317.3 172.3,317.8 173.8,318.8 175.3,318.9 176.8,319.3 178.3,319.7 179.8,320.3 181.3,319.5 182.8,319.6 184.3,319.4 185.8,319.5 187.3,319.3 188.8,319.2 190.3,318.6 191.8,318.6 193.3,318.4 194.8,318.6 196.3,318.5 197.8,317.7 199.3,317.6 200.8,317.4 202.3,317.2 203.8,317.1 205.3,316.9 206.8,316.4 208.3,316.0 209.8,316.1 211.3,315.8 212.8,315.7 214.3,315.9 215.8,315.6 217.3,315.4 218.8,315.4 220.3,315.4 221.8,314.9 223.3,315.5 224.8,315.4 226.3,315.4 227.8,315.3 229.3,314.9 230.8,314.9 232.3,314.5 233.8,314.9 235.3,314.3 236.8,314.5 238.3,314.9 239.8,315.3 241.3,315.2 242.8,314.6 244.3,314.2 245.8,314.0 247.3,314.3 248.8,314.9 250.3,315.0 251.8,315.8 253.3,315.6 254.8,315.3 256.3,315.4 257.8,315.3 259.3,315.2 260.8,314.8 262.3,315.3 263.8,315.3 265.3,314.8 266.8,314.7 268.3,314.3 269.8,314.4 271.3,314.7 272.8,314.7 274.3,315.2 275.8,314.5 277.3,314.2 278.8,314.8 280.3,314.3 281.8,314.0 283.3,314.3 284.8,313.9 286.3,314.3 287.8,314.7" fill="none" stroke="#000" stroke-width="2.6" stroke-linejoin="round" stroke-linecap="round"/>
<polyline points="169.3,320.6 170.8,320.9 172.3,320.9 173.8,321.1 175.3,321.2 176.8,321.2 178.3,320.7 179.8,320.4 181.3,319.6 182.8,319.0 184.3,318.7 185.8,318.0 187.3,317.1 188.8,316.2 190.3,315.4 191.8,314.5 193.3,313.4 194.8,312.7 196.3,311.8 197.8,310.7 199.3,309.8 200.8,309.0 202.3,308.1 203.8,307.5 205.3,306.7 206.8,305.5 208.3,304.9 209.8,304.0 211.3,303.1 212.8,301.9 214.3,300.9 215.8,300.0 217.3,299.3 218.8,298.7 220.3,298.3 221.8,297.9 223.3,297.3 224.8,296.4 226.3,295.9 227.8,295.3 229.3,294.1 230.8,293.7 232.3,293.1 233.8,292.3 235.3,291.5 236.8,290.6 238.3,289.8 239.8,289.5 241.3,288.5 242.8,288.2 244.3,287.6 245.8,286.6 247.3,286.0 248.8,285.7 250.3,285.0 251.8,284.0 253.3,283.4 254.8,282.8 256.3,282.7 257.8,282.0 259.3,281.1 260.8,281.0 262.3,280.5 263.8,279.8 265.3,279.1 266.8,278.6 268.3,277.9 269.8,277.4 271.3,277.5 272.8,276.9 274.3,276.4 275.8,276.2 277.3,275.4 278.8,275.2 280.3,274.7 281.8,273.9 283.3,273.4 284.8,273.0 286.3,272.5 287.8,272.2" fill="none" stroke="#3f86e0" stroke-width="2.3" stroke-linejoin="round" stroke-linecap="round"/>
<line x1="292.1" y1="278.3" x2="304.5" y2="278.3" stroke="#000" stroke-width="2.6"/>
<line x1="292.1" y1="293" x2="304.5" y2="293" stroke="#d8403a" stroke-width="2.0"/>
<line x1="292.1" y1="304.1" x2="304.5" y2="304.1" stroke="#3f86e0" stroke-width="2.2"/>
<text x="306.2" y="275.3" font-family='"Liberation Sans", sans-serif' font-size="8.8" font-weight="bold" fill="#000" text-anchor="start" textLength="43.7" lengthAdjust="spacingAndGlyphs">pr free lipo</text>
<text x="306.2" y="283.6" font-family='"Liberation Sans", sans-serif' font-size="8.8" font-weight="bold" fill="#000" text-anchor="start" textLength="26.5" lengthAdjust="spacingAndGlyphs">+v disc</text>
<text x="306.2" y="295.3" font-family='"Liberation Sans", sans-serif' font-size="8.8" font-weight="bold" fill="#000" text-anchor="start" textLength="39.8" lengthAdjust="spacingAndGlyphs">t lipo+disc</text>
<text x="306.2" y="306.2" font-family='"Liberation Sans", sans-serif' font-size="8.8" font-weight="bold" fill="#000" text-anchor="start" textLength="46.5" lengthAdjust="spacingAndGlyphs">t lipo+v disc</text>
<text x="456.5" y="237.4" font-family='"Liberation Sans", sans-serif' font-size="11.4" font-weight="bold" fill="#000" text-anchor="start" textLength="82.5" lengthAdjust="spacingAndGlyphs">Dithionite assay</text>
<path d="M423.4,259 L423.4,334.3 L561,334.3" fill="none" stroke="#7c7c7c" stroke-width="1"/>
<line x1="423.4" y1="334.3" x2="423.4" y2="336.5" stroke="#7c7c7c" stroke-width="0.8"/>
<line x1="446.2" y1="334.3" x2="446.2" y2="336.5" stroke="#7c7c7c" stroke-width="0.8"/>
<line x1="469.0" y1="334.3" x2="469.0" y2="336.5" stroke="#7c7c7c" stroke-width="0.8"/>
<line x1="491.79999999999995" y1="334.3" x2="491.79999999999995" y2="336.5" stroke="#7c7c7c" stroke-width="0.8"/>
<line x1="514.5999999999999" y1="334.3" x2="514.5999999999999" y2="336.5" stroke="#7c7c7c" stroke-width="0.8"/>
<line x1="537.4" y1="334.3" x2="537.4" y2="336.5" stroke="#7c7c7c" stroke-width="0.8"/>
<line x1="560.1999999999999" y1="334.3" x2="560.1999999999999" y2="336.5" stroke="#7c7c7c" stroke-width="0.8"/>
<line x1="421.2" y1="334.3" x2="423.4" y2="334.3" stroke="#7c7c7c" stroke-width="0.8"/>
<line x1="421.2" y1="326.77000000000004" x2="423.4" y2="326.77000000000004" stroke="#7c7c7c" stroke-width="0.8"/>
<line x1="421.2" y1="319.24" x2="423.4" y2="319.24" stroke="#7c7c7c" stroke-width="0.8"/>
<line x1="421.2" y1="311.71000000000004" x2="423.4" y2="311.71000000000004" stroke="#7c7c7c" stroke-width="0.8"/>
<line x1="421.2" y1="304.18" x2="423.4" y2="304.18" stroke="#7c7c7c" stroke-width="0.8"/>
<line x1="421.2" y1="296.65000000000003" x2="423.4" y2="296.65000000000003" stroke="#7c7c7c" stroke-width="0.8"/>
<line x1="421.2" y1="289.12" x2="423.4" y2="289.12" stroke="#7c7c7c" stroke-width="0.8"/>
<line x1="421.2" y1="281.59000000000003" x2="423.4" y2="281.59000000000003" stroke="#7c7c7c" stroke-width="0.8"/>
<line x1="421.2" y1="274.06" x2="423.4" y2="274.06" stroke="#7c7c7c" stroke-width="0.8"/>
<line x1="421.2" y1="266.53000000000003" x2="423.4" y2="266.53000000000003" stroke="#7c7c7c" stroke-width="0.8"/>
<line x1="421.2" y1="259.0" x2="423.4" y2="259.0" stroke="#7c7c7c" stroke-width="0.8"/>
<text x="400.4" y="322.44" font-family='"Liberation Sans", sans-serif' font-size="9.4" font-weight="normal" fill="#222" text-anchor="start" textLength="19.2" lengthAdjust="spacingAndGlyphs">1000</text>
<text x="400.4" y="307.38" font-family='"Liberation Sans", sans-serif' font-size="9.4" font-weight="normal" fill="#222" text-anchor="start" textLength="19.2" lengthAdjust="spacingAndGlyphs">2000</text>
<text x="400.4" y="292.32" font-family='"Liberation Sans", sans-serif' font-size="9.4" font-weight="normal" fill="#222" text-anchor="start" textLength="19.2" lengthAdjust="spacingAndGlyphs">3000</text>
<text x="400.4" y="277.26" font-family='"Liberation Sans", sans-serif' font-size="9.4" font-weight="normal" fill="#222" text-anchor="start" textLength="19.2" lengthAdjust="spacingAndGlyphs">4000</text>
<text x="400.4" y="262.2" font-family='"Liberation Sans", sans-serif' font-size="9.4" font-weight="normal" fill="#222" text-anchor="start" textLength="19.2" lengthAdjust="spacingAndGlyphs">5000</text>
<text x="409.2" y="337.5" font-family='"Liberation Sans", sans-serif' font-size="9.4" font-weight="normal" fill="#222" text-anchor="start" textLength="4.4" lengthAdjust="spacingAndGlyphs">0</text>
<text x="420.4" y="346.4" font-family='"Liberation Sans", sans-serif' font-size="11" font-weight="normal" fill="#222" text-anchor="start" textLength="5.4" lengthAdjust="spacingAndGlyphs">0</text>
<text x="463.3" y="346.4" font-family='"Liberation Sans", sans-serif' font-size="11" font-weight="normal" fill="#222" text-anchor="start" textLength="10.8" lengthAdjust="spacingAndGlyphs">20</text>
<text x="508.8999999999999" y="346.4" font-family='"Liberation Sans", sans-serif' font-size="11" font-weight="normal" fill="#222" text-anchor="start" textLength="10.8" lengthAdjust="spacingAndGlyphs">40</text>
<text x="554.5" y="346.4" font-family='"Liberation Sans", sans-serif' font-size="11" font-weight="normal" fill="#222" text-anchor="start" textLength="10.8" lengthAdjust="spacingAndGlyphs">60</text>
<text x="469.7" y="355.7" font-family='"Liberation Sans", sans-serif' font-size="10" font-weight="bold" fill="#000" text-anchor="start" textLength="43.3" lengthAdjust="spacingAndGlyphs">Time(min)</text>
<text transform="translate(394.9,314.0) rotate(-90)" font-family='"Liberation Sans", sans-serif' font-size="9.4" font-weight="bold" fill="#000" textLength="41" lengthAdjust="spacingAndGlyphs">NBD signal</text>
<polyline points="423.4,307.2 424.5,306.9 425.7,306.6 426.8,306.3 428.0,306.0 429.1,305.7 430.2,305.5 431.4,305.2 432.5,304.9 433.7,304.7 434.8,304.4 435.9,304.2 437.1,303.9 438.2,303.7 439.4,303.5 440.5,303.2 441.6,303.0 442.8,302.8 443.9,302.6 445.1,302.4 446.2,302.2 447.3,302.0 448.5,301.8 449.6,301.6 450.8,301.4 451.9,301.3 453.0,301.1 454.2,300.9 455.3,300.8 456.5,300.6 457.6,300.4 458.7,300.3 459.9,300.1 461.0,300.0 462.2,299.8 463.3,299.7 464.4,299.6 465.6,299.4 466.7,299.3 467.9,299.2 469.0,299.0 470.1,298.9 471.3,298.8 472.4,298.7 473.6,298.6 474.7,298.4 475.8,298.3 477.0,298.2 478.1,298.1 479.3,298.0 480.4,297.9 481.5,297.8 482.7,297.7 483.8,297.6 485.0,297.5 486.1,297.4 487.2,297.4 488.4,297.3 489.5,297.2 490.7,297.1 491.8,297.0 492.9,296.9 494.1,296.9 495.2,296.8 496.4,296.7 497.5,296.6 498.6,296.6 499.8,296.5 500.9,296.4 502.1,296.4 503.2,296.3 504.3,296.2 505.5,296.2 506.6,296.1 507.8,296.1 508.9,296.0 510.0,296.0 511.2,295.9 512.3,295.8 513.5,295.8 513.7,296.3 516.3,316.0 520.0,317.2 530.0,317.6 547.6,317.3" fill="none" stroke="#3f86e0" stroke-width="2.2" stroke-linejoin="round" stroke-linecap="round"/>
<polyline points="423.4,307.2 424.5,306.9 425.7,306.6 426.8,306.3 428.0,306.0 429.1,305.7 430.2,305.5 431.4,305.2 432.5,304.9 433.7,304.7 434.8,304.4 435.9,304.2 437.1,303.9 438.2,303.7 439.4,303.5 440.5,303.2 441.6,303.0 442.8,302.8 443.9,302.6 445.1,302.4 446.2,302.2 447.3,302.0 448.5,301.8 449.6,301.6 450.8,301.4 451.9,301.3 453.0,301.1 454.2,300.9 455.3,300.8 456.5,300.6 457.6,300.4 458.7,300.3 459.9,300.1 461.0,300.0 462.2,299.8 463.3,299.7 464.4,299.6 465.6,299.4 466.7,299.3 467.9,299.2 469.0,299.0 470.1,298.9 471.3,298.8 472.4,298.7 473.6,298.6 474.7,298.4 475.8,298.3 477.0,298.2 478.1,298.1 479.3,298.0 480.4,297.9 481.5,297.8 482.7,297.7 483.8,297.6 485.0,297.5 486.1,297.4 487.2,297.4 488.4,297.3 489.5,297.2 490.7,297.1 491.8,297.0 492.9,296.9 494.1,296.9 495.2,296.8 496.4,296.7 497.5,296.6 498.6,296.6 499.8,296.5 500.9,296.4 502.1,296.4 503.2,296.3 504.3,296.2 505.5,296.2 506.6,296.1 507.8,296.1 508.9,296.0 510.0,296.0 511.2,295.9 512.3,295.8 513.5,295.8 513.7,296.3 515.9,265.3 520.0,266.4 524.8,267.2 527.2,320.1 532.0,320.9 547.6,321.4" fill="none" stroke="#7a1a1c" stroke-width="2.2" stroke-linejoin="round" stroke-linecap="round"/>
<polyline points="423.4,306.4 424.5,306.6 425.7,306.7 426.8,306.8 428.0,306.9 429.1,306.9 430.2,307.0 431.4,307.1 432.5,307.2 433.7,307.2 434.8,307.3 435.9,307.3 437.1,307.4 438.2,307.4 439.4,307.5 440.5,307.5 441.6,307.5 442.8,307.6 443.9,307.6 445.1,307.6 446.2,307.7 447.3,307.7 448.5,307.7 449.6,307.8 450.8,307.8 451.9,307.8 453.0,307.9 454.2,307.9 455.3,307.9 456.5,308.0 457.6,308.0 458.7,308.0 459.9,308.1 461.0,308.1 462.2,308.1 463.3,308.1 464.4,308.2 465.6,308.2 466.7,308.2 467.9,308.2 469.0,308.2 470.1,308.3 471.3,308.3 472.4,308.3 473.6,308.3 474.7,308.3 475.8,308.3 477.0,308.3 478.1,308.3 479.3,308.3 480.4,308.3 481.5,308.3 482.7,308.3 483.8,308.3 485.0,308.3 486.1,308.3 487.2,308.3 488.4,308.3 489.5,308.2 490.7,308.2 491.8,308.2 492.9,308.2 494.1,308.2 495.2,308.2 496.4,308.1 497.5,308.1 498.6,308.1 499.8,308.1 500.9,308.1 502.1,308.1 503.2,308.0 504.3,308.0 505.5,308.0 506.6,308.0 507.8,308.0 508.9,308.0 510.0,308.0 511.2,308.0 512.3,308.0 513.5,308.0 513.7,307.9 516.3,320.9 520.0,321.8 547.6,322.0" fill="none" stroke="#99c445" stroke-width="2.4" stroke-linejoin="round" stroke-linecap="round"/>
<text x="508.5" y="252.2" font-family='"Liberation Sans", sans-serif' font-size="6" font-weight="normal" fill="#111" text-anchor="start" textLength="29.8" lengthAdjust="spacingAndGlyphs">+Detergent</text>
<line x1="518" y1="254.9" x2="515.8" y2="263.1" stroke="#111" stroke-width="0.85" marker-end="url(#ak)"/>
<text x="526.7" y="259.5" font-family='"Liberation Sans", sans-serif' font-size="6" font-weight="normal" fill="#111" text-anchor="start" textLength="28.5" lengthAdjust="spacingAndGlyphs">+Dithionite</text>
<line x1="529.4" y1="261.2" x2="525.8" y2="266.3" stroke="#111" stroke-width="0.85" marker-end="url(#ak)"/>
<text x="481.9" y="322.1" font-family='"Liberation Sans", sans-serif' font-size="6" font-weight="normal" fill="#111" text-anchor="start" textLength="27.9" lengthAdjust="spacingAndGlyphs">+Dithionite</text>
<line x1="497" y1="313" x2="512.3" y2="298.2" stroke="#111" stroke-width="0.85" marker-end="url(#ak)"/>
<line x1="497" y1="314.4" x2="512.3" y2="310.9" stroke="#111" stroke-width="0.85" marker-end="url(#ak)"/>
<line x1="561.1" y1="274.8" x2="571.5" y2="274.8" stroke="#3f86e0" stroke-width="2.2"/>
<text x="572.8" y="278.0" font-family='"Liberation Sans", sans-serif' font-size="9.2" font-weight="bold" fill="#000" text-anchor="start" textLength="36.7" lengthAdjust="spacingAndGlyphs">v disc+Di</text>
<line x1="561.1" y1="284.2" x2="571.5" y2="284.2" stroke="#7a1a1c" stroke-width="2.2"/>
<text x="572.8" y="287.4" font-family='"Liberation Sans", sans-serif' font-size="9.2" font-weight="bold" fill="#000" text-anchor="start" textLength="53" lengthAdjust="spacingAndGlyphs">v disc+De+Di</text>
<line x1="561.1" y1="294.3" x2="571.5" y2="294.3" stroke="#99c445" stroke-width="2.2"/>
<text x="572.8" y="297.5" font-family='"Liberation Sans", sans-serif' font-size="9.2" font-weight="bold" fill="#000" text-anchor="start" textLength="57" lengthAdjust="spacingAndGlyphs">cdv+v disc+Di</text>
<text x="549.7" y="315.5" font-family='"Liberation Sans", sans-serif' font-size="9.8" font-weight="bold" fill="#4a90e0" text-anchor="start" textLength="62.5" lengthAdjust="spacingAndGlyphs">NBD protection</text>
<text x="549.7" y="325.5" font-family='"Liberation Sans", sans-serif' font-size="9.8" font-weight="bold" fill="#111" text-anchor="start" textLength="73.3" lengthAdjust="spacingAndGlyphs">100% NBD quench</text>
</svg>
</body></html>
